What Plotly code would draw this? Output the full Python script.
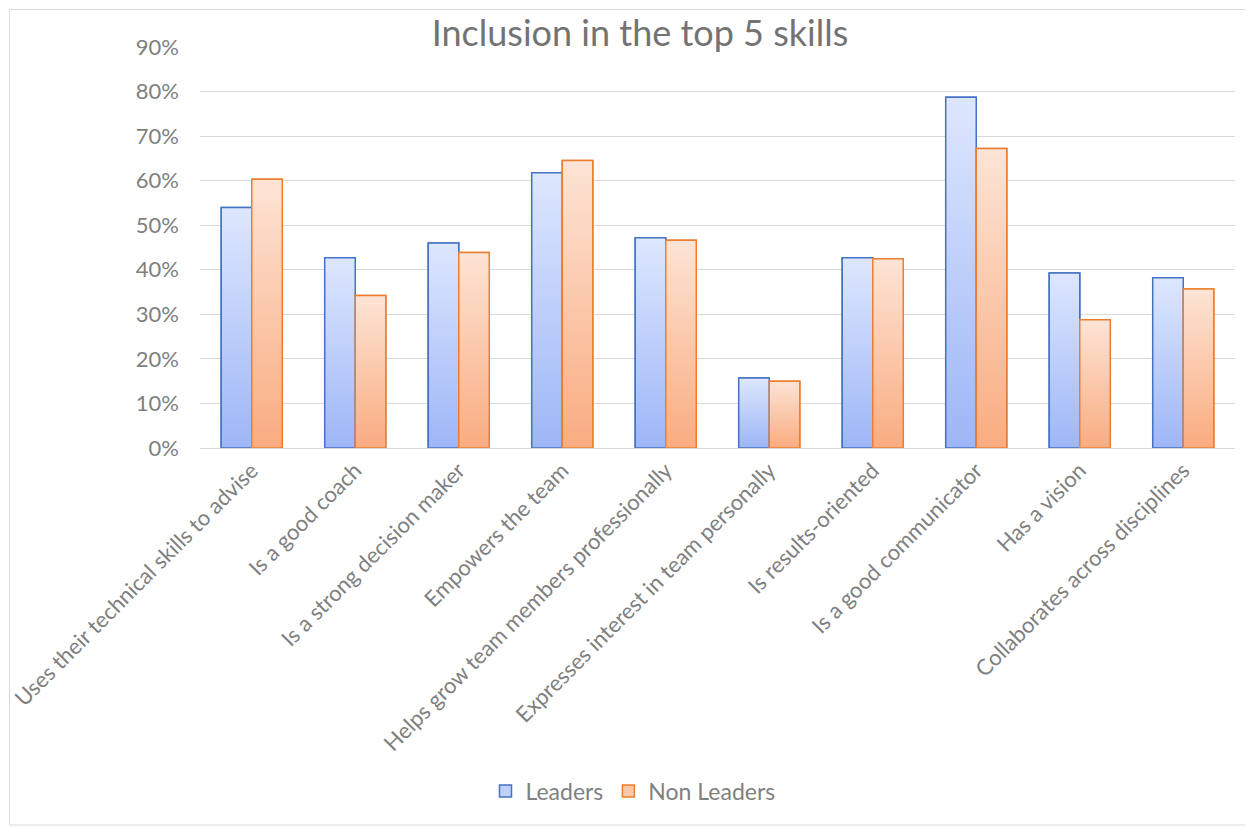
import plotly.graph_objects as go

categories = [
    "Uses their technical skills to advise",
    "Is a good coach",
    "Is a strong decision maker",
    "Empowers the team",
    "Helps grow team members professionally",
    "Expresses interest in team personally",
    "Is results-oriented",
    "Is a good communicator",
    "Has a vision",
    "Collaborates across disciplines",
]
leaders = [0.540, 0.427, 0.460, 0.618, 0.472, 0.157, 0.427, 0.787, 0.393, 0.382]
non_leaders = [0.603, 0.342, 0.439, 0.645, 0.466, 0.150, 0.425, 0.672, 0.288, 0.357]
y_ticks = [0, 0.1, 0.2, 0.3, 0.4, 0.5, 0.6, 0.7, 0.8, 0.9]

FONT = "Lato, 'Open Sans', sans-serif"
TXT = "#7F7F7F"
BARGAP = 0.41
W = (1 - BARGAP) / 2

series = [
    ("Leaders", leaders, -1, "#4472C4", "#BFD0F9", ["#9DB6F6", "#DDE7FE"]),
    ("Non Leaders", non_leaders, 0, "#ED7D31", "#FBC8A9", ["#F9AC80", "#FDE4D5"]),
]

fig = go.Figure()
xs = list(range(len(categories)))

for name, vals, side, line_c, mid_c, grad in series:
    fig.add_trace(go.Bar(
        x=xs, y=vals, name=name,
        marker=dict(color=mid_c, line=dict(color=line_c, width=1.5)),
        hovertemplate="%{y:.0%}<extra>" + name + "</extra>",
    ))

for name, vals, side, line_c, mid_c, grad in series:
    for i, v in zip(xs, vals):
        x0 = i + side * W
        x1 = x0 + W
        fig.add_trace(go.Scatter(
            x=[x0, x0, x1, x1, x0], y=[0, v, v, 0, 0],
            mode="lines", fill="toself",
            fillgradient=dict(type="vertical", start=0, stop=v,
                              colorscale=[[0, grad[0]], [1, grad[1]]]),
            line=dict(color=line_c, width=1.5),
            showlegend=False, hoverinfo="skip",
        ))

# page body has an 8px margin, so figure coordinates = screen - 8
OFF = 8
L, T, R, B = 192, 39, 26, 387
PW = 1253 - L - R
PH = 827 - T - B
BASE = 827 - B  # figure y of the plot bottom


def px_x(sx):
    return (sx - OFF - L) / PW


def px_y(sy):
    return (BASE - (sy - OFF)) / PH


fig.update_layout(
    width=1253, height=827,
    paper_bgcolor="white", plot_bgcolor="white",
    barmode="group", bargap=BARGAP, bargroupgap=0,
    margin=dict(l=L, r=R, t=T, b=B, autoexpand=False),
    font=dict(family=FONT, color=TXT, size=22),
    title=dict(text="Inclusion in the top 5 skills", xref="container", x=(640 - OFF) / 1253,
               xanchor="center", yref="container", y=1 - (33 - OFF) / 827, yanchor="middle",
               font=dict(size=36, color="#737373", family=FONT)),
    legend=dict(orientation="h", xref="container", x=(633 - OFF) / 1253, xanchor="center",
                yref="container", y=1 - (791 - OFF) / 827, yanchor="middle",
                font=dict(size=23, color=TXT), itemwidth=30, traceorder="normal"),
    showlegend=True,
)
fig.update_xaxes(
    tickmode="array", tickvals=xs, ticktext=categories, tickangle=-45,
    range=[-0.5, len(categories) - 0.5], showgrid=False, zeroline=False,
    showline=True, linecolor="#D9D9D9", linewidth=1, ticks="",
    tickfont=dict(size=22, color=TXT), automargin=False,
)
fig.update_yaxes(
    range=[0, 0.9], tickvals=y_ticks, tickformat=".0%", showgrid=True,
    gridcolor="#D9D9D9", gridwidth=1, zeroline=False, showline=False,
    ticks="", ticklen=0, tickfont=dict(size=22, color=TXT), ticklabelstandoff=20,
    automargin=False,
)
fig.add_shape(type="rect", xref="paper", yref="paper",
              x0=px_x(9.5), x1=px_x(1247), y0=px_y(825), y1=px_y(9.5),
              line=dict(color="#D9D9D9", width=1), fillcolor="rgba(0,0,0,0)", layer="below")

fig.write_html("out.html")
